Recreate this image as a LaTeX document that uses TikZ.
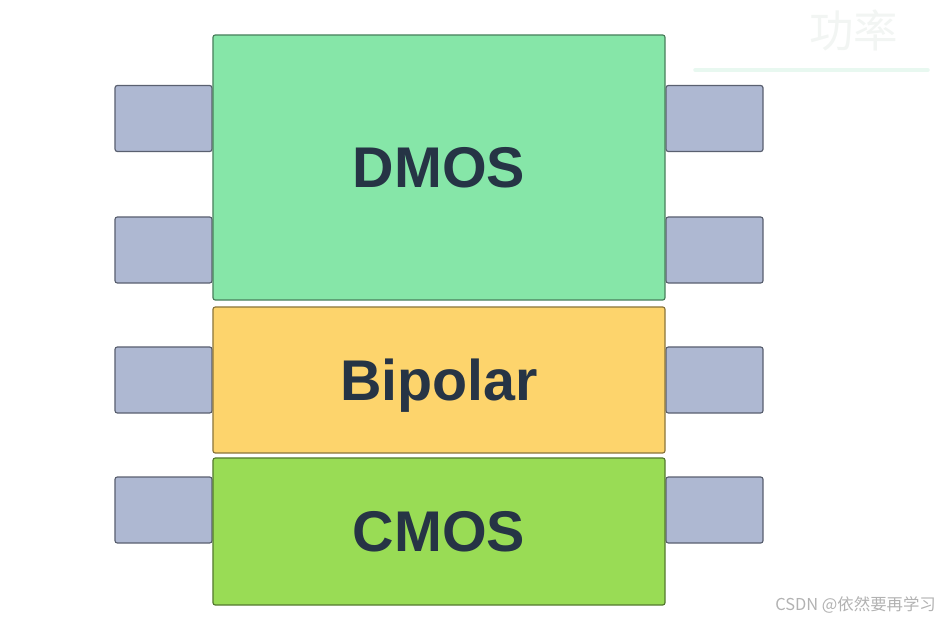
\documentclass[tikz,border=0pt]{standalone}
\usepackage{fontspec}
\setmainfont{Liberation Sans}
\newfontfamily\cjk{Noto Sans CJK SC}
\definecolor{dmosgreen}{HTML}{86E6A8}
\definecolor{bipyellow}{HTML}{FDD46C}
\definecolor{cmosgreen}{HTML}{99DC55}
\definecolor{pinblue}{HTML}{AEB8D2}
\definecolor{pinedge}{HTML}{5A6070}
\definecolor{labelink}{HTML}{263445}
\definecolor{faintink}{HTML}{F2F5F3}
\definecolor{faintline}{HTML}{E8F8F0}
\tikzset{
  pin/.style={draw=pinedge, fill=pinblue, line width=1pt, rounded corners=2pt,
    minimum width=2.91cm, minimum height=1.98cm, inner sep=0pt},
  layer/.style={line width=1pt, rounded corners=2pt, minimum width=13.56cm,
    inner sep=0pt, text depth=0pt, text=labelink, font=\bfseries\fontsize{49}{49}\selectfont},
}
\begin{document}
\begin{tikzpicture}[x=0.03cm, y=-0.03cm]
\useasboundingbox (0,0) rectangle (945,621);

% faint background text
\node[text=faintink, font=\cjk\fontsize{38}{38}\selectfont, anchor=west] (bgtitle) at (805,30) {功率};
\draw[draw=faintline, line width=3pt, line cap=round] (695,70) -- (928,70);

% left pins
\node[pin] (l1) at (163.5,118.5) {};
\node[pin] (l2) at (163.5,250) {};
\node[pin] (l3) at (163.5,380) {};
\node[pin] (l4) at (163.5,510) {};

% right pins
\node[pin] (r1) at (714.5,118.5) {};
\node[pin] (r2) at (714.5,250) {};
\node[pin] (r3) at (714.5,380) {};
\node[pin] (r4) at (714.5,510) {};

% DMOS
\node[layer, fill=dmosgreen, draw=dmosgreen!55!black, minimum height=7.95cm] (dmos) at (439,167.5) {DMOS};

% Bipolar
\node[layer, fill=bipyellow, draw=bipyellow!55!black, minimum height=4.38cm] (bipolar) at (439,380) {Bipolar};

% CMOS
\node[layer, fill=cmosgreen, draw=cmosgreen!55!black, minimum height=4.41cm] (cmos) at (439,531.5) {CMOS};

% watermark
\node[text=black!30, font=\cjk\fontsize{14}{14}\selectfont, anchor=east] (mark) at (940,605) {CSDN @依然要再学习};

\end{tikzpicture}
\end{document}
